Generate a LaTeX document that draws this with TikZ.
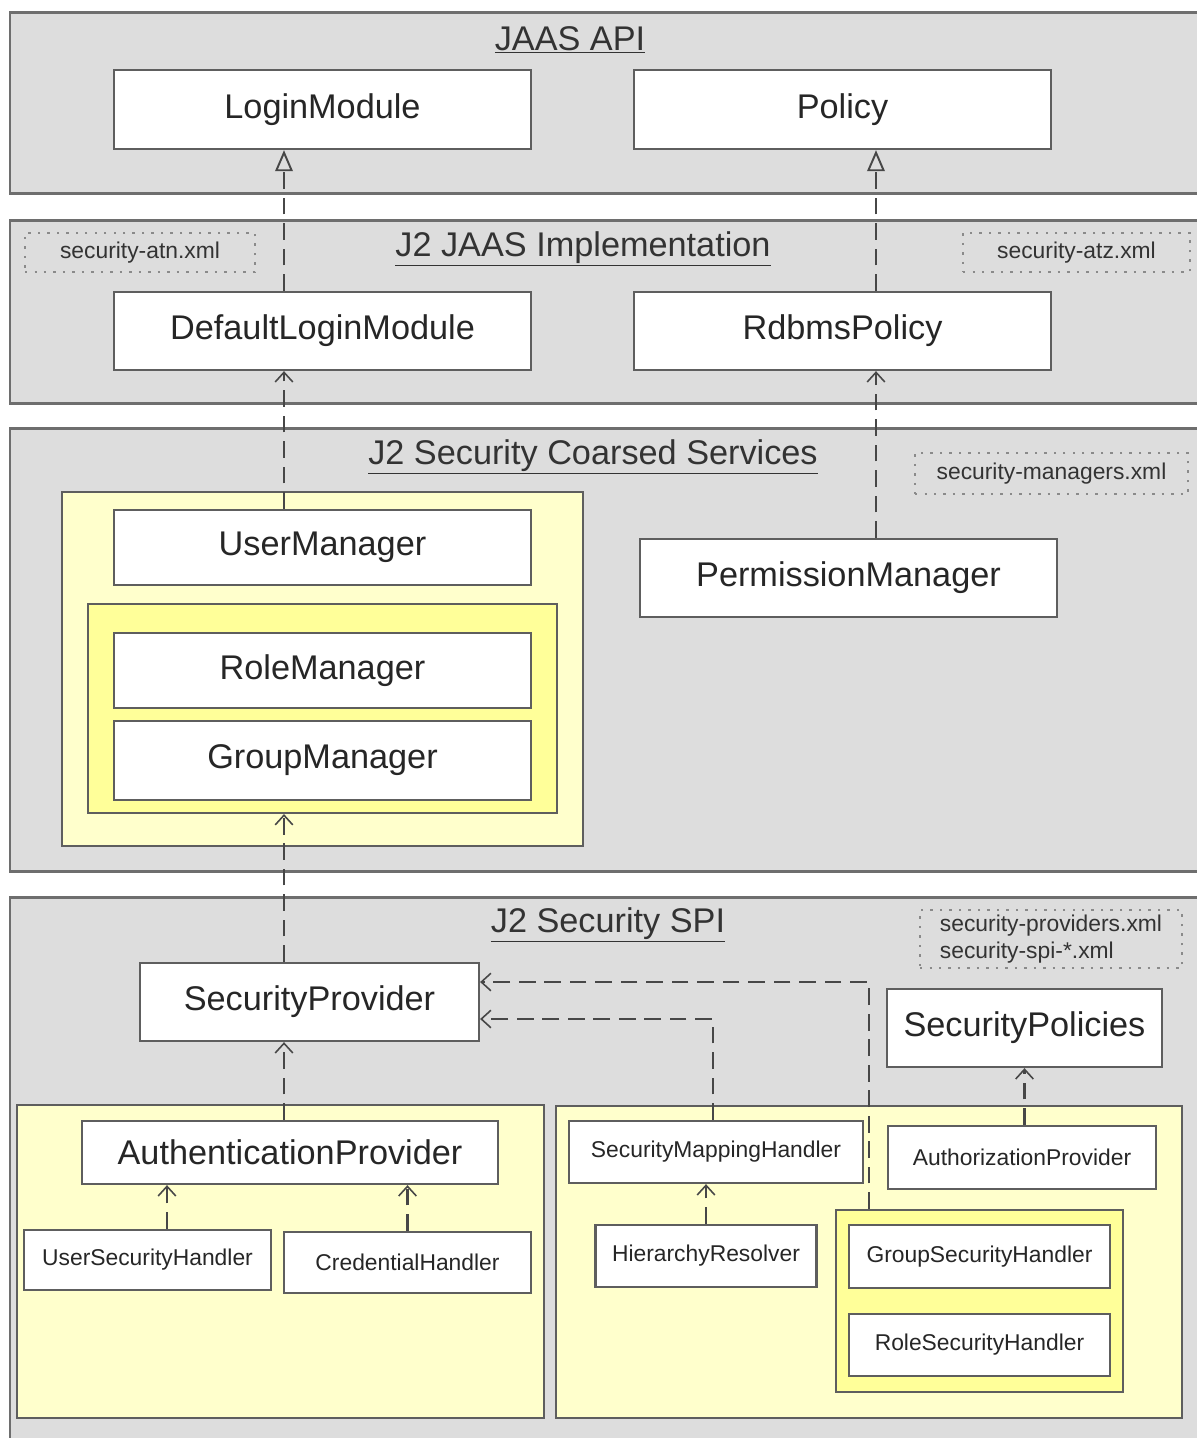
\documentclass[tikz,border=0pt]{standalone}
\usepackage{fontspec}
\setmainfont{Liberation Sans}
\usetikzlibrary{arrows.meta,fit}

\definecolor{layergray}{HTML}{DDDDDD}
\definecolor{edgegray}{HTML}{5E5E5E}
\definecolor{linkgray}{HTML}{474747}
\definecolor{notegray}{HTML}{8A8A8A}
\definecolor{paleyellow}{HTML}{FFFFCC}
\definecolor{softyellow}{HTML}{FFFF99}

\newcommand\clsfont{\fontsize{19.5}{23}\selectfont}
\newcommand\notefont{\fontsize{13}{15.5}\selectfont}

\tikzset{
  layer/.style={draw=edgegray!90, fill=layergray, line width=1.7pt},
  grp/.style={draw=edgegray, line width=1.2pt, inner sep=0pt},
  sized/.style 2 args={minimum width=#1, minimum height=#2},
  cls/.style={draw=edgegray, fill=white, line width=1.3pt, inner sep=0pt, font=\clsfont, text=black!85},
  hcls/.style={cls, font=\notefont},
  note/.style={draw=notegray, dash pattern=on 1.4pt off 4pt, line width=1.5pt, inner sep=0pt, font=\notefont, text=black!80},
  title/.style={font=\clsfont, text=black!80},
  link/.style={draw=linkgray, line width=1.5pt, dash pattern=on 9.5pt off 5pt},
  real/.style={link, -{Triangle[open, length=12pt, width=10pt, line width=1.1pt]}},
  dep/.style={link, -{Straight Barb[length=5.5pt, width=10pt, line width=0.9pt]}}
}

\begin{document}
\begin{tikzpicture}[x=0.02cm, y=-0.02cm]
  \useasboundingbox (0,0) rectangle (1197,1438);
  \fill[white] (0,0) rectangle (1197,1438);
  \clip (0,0) rectangle (1197,1438);

  % Layers
  \draw[layer] (10,12) rectangle (1215,193);
  \draw[layer] (10,220) rectangle (1215,403);
  \draw[layer] (10,428) rectangle (1215,871);
  \draw[layer] (10,897) rectangle (1215,1460);

  % Layer titles
  \node[title] (tjaas) at (570,40) {\underline{JAAS API}};
  \node[title] (timpl) at (583,249) {\underline{J2 JAAS Implementation}};
  \node[title] (tcoarse) at (593,457) {\underline{J2 Security Coarsed Services}};
  \node[title] (tspi) at (608,925) {\underline{J2 Security SPI}};

  % Config files
  \node[note, sized={4.6cm}{0.78cm}] (atn) at (140,252.5) {security-atn.xml};
  \node[note, sized={4.54cm}{0.78cm}] (atz) at (1076.5,252.5) {security-atz.xml};
  \node[note, sized={5.46cm}{0.82cm}] (mgrs) at (1051.5,473.5) {security-managers.xml};
  \node[note, sized={5.24cm}{1.16cm}, align=left] (spis) at (1051,939) {security-providers.xml\\security-spi-*.xml};

  % Groups
  \node[grp, fill=paleyellow, fit={(62,492) (583,846)}] (umgrp) {};
  \node[grp, fill=softyellow, fit={(88,604) (557,813)}] (rmgrp) {};
  \node[grp, fill=paleyellow, fit={(17,1105) (544,1418)}] (authgrp) {};
  \node[grp, fill=paleyellow, fit={(556,1106) (1182,1418)}] (azgrp) {};
  \node[grp, fill=softyellow, fit={(836,1210) (1123,1392)}] (shgrp) {};

  % JAAS API
  \node[cls, sized={8.34cm}{1.58cm}] (lm) at (322.5,109.5) {LoginModule};
  \node[cls, sized={8.34cm}{1.58cm}] (pol) at (842.5,109.5) {Policy};
  % J2 JAAS Implementation
  \node[cls, sized={8.34cm}{1.56cm}] (dlm) at (322.5,331) {DefaultLoginModule};
  \node[cls, sized={8.34cm}{1.56cm}] (rp) at (842.5,331) {RdbmsPolicy};
  % J2 Security Coarsed Services
  \node[cls, sized={8.34cm}{1.5cm}] (um) at (322.5,547.5) {UserManager};
  \node[cls, sized={8.34cm}{1.5cm}] (rm) at (322.5,670.5) {RoleManager};
  \node[cls, sized={8.34cm}{1.58cm}] (gm) at (322.5,760.5) {GroupManager};
  \node[cls, sized={8.34cm}{1.56cm}] (pm) at (848.5,578) {PermissionManager};
  % J2 Security SPI
  \node[cls, sized={6.78cm}{1.56cm}] (sp) at (309.5,1002) {SecurityProvider};
  \node[cls, sized={5.5cm}{1.56cm}] (spol) at (1024.5,1028) {SecurityPolicies};
  \node[cls, sized={8.32cm}{1.26cm}] (ap) at (290,1152.5) {AuthenticationProvider};
  \node[hcls, sized={4.94cm}{1.2cm}] (ush) at (147.5,1260) {UserSecurityHandler};
  \node[hcls, sized={4.94cm}{1.22cm}] (ch) at (407.5,1262.5) {CredentialHandler};
  \node[hcls, sized={5.88cm}{1.24cm}] (smh) at (716,1152) {SecurityMappingHandler};
  \node[hcls, sized={5.36cm}{1.26cm}] (azp) at (1022,1157.5) {AuthorizationProvider};
  \node[hcls, sized={4.42cm}{1.24cm}] (hr) at (706,1256) {HierarchyResolver};
  \node[hcls, sized={5.22cm}{1.26cm}] (gsh) at (979.5,1256.5) {GroupSecurityHandler};
  \node[hcls, sized={5.22cm}{1.24cm}] (rsh) at (979.5,1345) {RoleSecurityHandler};

  % Connector columns
  \coordinate (colA) at (284,0);
  \coordinate (colB) at (876,0);

  % Realizations
  \draw[real] (colA |- dlm.north) -- (colA |- lm.south);
  \draw[real] (colB |- rp.north) -- (colB |- pol.south);

  % Dependencies
  \draw[dep] (colA |- um.north) -- (colA |- dlm.south);
  \draw[dep] (colB |- pm.north) -- (colB |- rp.south);
  \draw[dep] (colA |- sp.north) -- (colA |- rmgrp.south);
  \draw[dep] (colA |- ap.north) -- (colA |- sp.south);
  \draw[dep] ([xshift=0.39cm]ush.north) -- ([xshift=0.39cm]ush.north |- ap.south);
  \draw[dep] (ch.north) -- (ch.north |- ap.south);
  \draw[dep] (hr.north) -- (hr.north |- smh.south);
  \draw[dep] ([xshift=-0.06cm]smh.north) |- ([yshift=-0.34cm]sp.east);
  \draw[dep] ([xshift=-2.21cm]shgrp.north) |- ([yshift=0.4cm]sp.east);
  \draw[dep] (spol.south |- azp.north) -- (spol.south);
\end{tikzpicture}
\end{document}
